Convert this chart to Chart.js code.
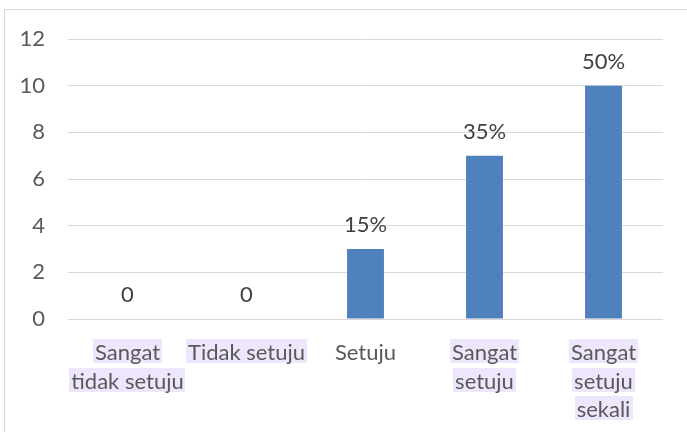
<!DOCTYPE html>
<html><head><meta charset="utf-8">
<script src="https://cdn.jsdelivr.net/npm/chart.js@4"></script>
<style>html,body{margin:0;padding:0;background:#fff}#wrap{width:687px;height:432px;position:relative}</style>
</head><body><div id="wrap"><canvas id="c" width="687" height="432"></canvas></div>
<script>
const categories = [["Sangat","tidak setuju"],["Tidak setuju"],["Setuju"],["Sangat","setuju"],["Sangat","setuju","sekali"]];
const values = [0, 0, 3, 7, 10];
const valueLabels = ["0", "0", "15%", "35%", "50%"];
const highlighted = [true, true, false, true, true];
const yMin = 0, yMax = 12, yStep = 2;

const FONT = "Lato";
const FSIZE = 22;
const LINE_H = 28.5;
const XPAD = 12;
const BOX_OFF = 18;

const bgPlugin = {
  id: 'bg',
  beforeDraw(chart) {
    const ctx = chart.ctx;
    ctx.save();
    ctx.fillStyle = '#ffffff';
    ctx.fillRect(0, 0, chart.width, chart.height);
    ctx.strokeStyle = '#D9D9D9';
    ctx.lineWidth = 1;
    ctx.strokeRect(4.5, 9.5, chart.width + 20, chart.height + 20);
    const xs = chart.scales.x;
    ctx.font = FSIZE + 'px ' + FONT;
    ctx.fillStyle = '#EEE6FC';
    categories.forEach((lines, i) => {
      if (!highlighted[i]) return;
      const cx = xs.getPixelForTick(i);
      lines.forEach((ln, j) => {
        const w = ctx.measureText(ln).width;
        const cy = xs.top + BOX_OFF + LINE_H / 2 + j * LINE_H;
        ctx.fillRect(Math.round(cx - w / 2 - 2), Math.round(cy - 12), Math.round(w + 4), 24);
      });
    });
    ctx.restore();
  }
};

const valuePlugin = {
  id: 'vals',
  afterDatasetsDraw(chart) {
    const ctx = chart.ctx;
    const meta = chart.getDatasetMeta(0);
    ctx.save();
    ctx.font = FSIZE + 'px ' + FONT;
    ctx.fillStyle = '#404040';
    ctx.textAlign = 'center';
    ctx.textBaseline = 'middle';
    meta.data.forEach((bar, i) => {
      ctx.fillText(valueLabels[i], bar.x, bar.y - 24);
    });
    ctx.restore();
  }
};

new Chart(document.getElementById('c'), {
  type: 'bar',
  data: {
    labels: categories,
    datasets: [{
      data: values,
      backgroundColor: '#4F81BD',
      borderWidth: 0,
      categoryPercentage: 1,
      barPercentage: 0.31
    }]
  },
  options: {
    responsive: false,
    animation: false,
    devicePixelRatio: 1,
    layout: { padding: { top: 39, right: 24, bottom: 0, left: 0 } },
    plugins: { legend: { display: false }, tooltip: { enabled: false } },
    scales: {
      x: {
        grid: { display: false },
        border: { display: false },
        ticks: {
          color: '#595959', font: { family: FONT, size: FSIZE, lineHeight: LINE_H / FSIZE },
          padding: XPAD, maxRotation: 0, autoSkip: false
        },
        afterFit(s) { s.height = 113; }
      },
      y: {
        min: yMin, max: yMax,
        grid: { color: '#D9D9D9', lineWidth: 1, drawTicks: false },
        border: { display: false },
        ticks: {
          stepSize: yStep, color: '#595959', font: { family: FONT, size: FSIZE }, padding: 23
        },
        afterFit(s) { s.width = 68; }
      }
    }
  },
  plugins: [bgPlugin, valuePlugin]
});
</script>
</body></html>
